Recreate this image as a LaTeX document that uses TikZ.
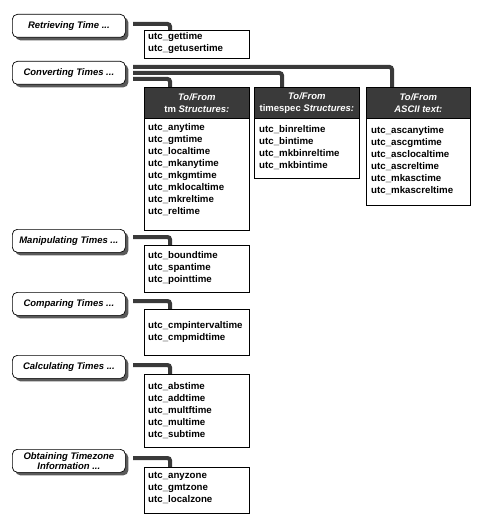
\documentclass[tikz,border=0pt]{standalone}
\usepackage{fontspec}
\setmainfont{Liberation Sans}
\usetikzlibrary{shadows}
\definecolor{dgray}{HTML}{3A3A3A}
\definecolor{sgray}{HTML}{5A5A5A}
\begin{document}
\begin{tikzpicture}[x=1pt,y=-1pt,
  conn/.style={draw=dgray, line width=4pt, rounded corners=2.5pt},
  topic/.style={draw=black, fill=white, rounded corners=5pt, minimum width=113pt, minimum height=23pt,
    anchor=north west, align=center, inner sep=0pt, line width=0.7pt,
    font=\bfseries\itshape\fontsize{9.5}{10.5}\selectfont,
    drop shadow={shadow xshift=3pt, shadow yshift=-3pt, fill=sgray, opacity=1}},
  listbox/.style={draw=black, fill=white, anchor=north west, line width=0.7pt, inner sep=0pt, minimum width=105pt},
  headbox/.style={draw=black, fill=dgray, anchor=north west, line width=0.7pt, inner sep=0pt,
    minimum width=105pt, minimum height=31pt, text=white, align=center,
    font=\bfseries\itshape\fontsize{9.5}{12}\selectfont},
  listtext/.style={anchor=north west, inner sep=0pt, align=left,
    font=\bfseries\fontsize{9.7}{12}\selectfont}
]
\useasboundingbox[fill=white] (0,0) rectangle (480,524);

% ---- topic boxes (left) ----
\node[topic] (ret)  at (12,14)  {Retrieving Time ...};
\node[topic] (conv) at (12,61)  {Converting Times ...};
\node[topic] (man)  at (12,229) {Manipulating Times ...};
\node[topic] (cmp)  at (12,292) {Comparing Times ...};
\node[topic] (calc) at (12,355) {Calculating Times ...};
\node[topic] (tz)   at (12,449) {Obtaining Timezone\\Information ...};

% ---- connector start points ----
\coordinate (sret)  at (133,24);
\coordinate (sc1)   at (133,67);
\coordinate (sc2)   at (133,73);
\coordinate (sc3)   at (133,79);
\coordinate (sman)  at (133,237);
\coordinate (scmp)  at (133,301);
\coordinate (scalc) at (133,365);
\coordinate (stz)   at (133,458);

% ---- list boxes ----
\node[listbox, minimum height=28pt] (get)  at (144,30) {};
\node[listbox, minimum height=143pt] (tm)  at (144,87) {};
\node[listbox, minimum height=91pt] (ts) at (254,87) {};
\node[listbox, minimum height=118pt, minimum width=104pt] (asc) at (366,87) {};
\node[listbox, minimum height=47pt] (bnd)  at (144,245) {};
\node[listbox, minimum height=46pt] (cmpl) at (144,309) {};
\node[listbox, minimum height=73pt] (abs)  at (144,374) {};
\node[listbox, minimum height=46pt] (zone) at (144,467) {};

% ---- connectors ----
\draw[conn] (sret)  -| ([xshift=26pt]get.north west);
\draw[conn] (sc1)   -| ([xshift=26pt]asc.north west);
\draw[conn] (sc2)   -| ([xshift=28pt]ts.north west);
\draw[conn] (sc3)   -| ([xshift=26pt]tm.north west);
\draw[conn] (sman)  -| ([xshift=26pt]bnd.north west);
\draw[conn] (scmp)  -| ([xshift=26pt]cmpl.north west);
\draw[conn] (scalc) -| ([xshift=26pt]abs.north west);
\draw[conn] (stz)   -| ([xshift=26pt]zone.north west);

% redraw box top edges over connector ends
\foreach \b in {get,tm,ts,asc,bnd,cmpl,abs,zone}
  \draw[line width=0.7pt] (\b.north west) -- (\b.north east);

% ---- column headers ----
\node[headbox] (tmh)  at (144,87) {To/From\\{\upshape tm} Structures:};
\node[headbox] (tsh)  at (254,87) {To/From\\{\upshape timespec} Structures:};
\node[headbox, minimum width=104pt] (asch) at (366,87) {To/From\\ASCII text:};

% ---- list texts ----
\node[listtext] (tget) at (148,32) {utc\_gettime\\utc\_getusertime};
\node[listtext] (ttm) at (148,123) {utc\_anytime\\utc\_gmtime\\utc\_localtime\\utc\_mkanytime\\utc\_mkgmtime\\utc\_mklocaltime\\utc\_mkreltime\\utc\_reltime};
\node[listtext] (tts) at (259,125) {utc\_binreltime\\utc\_bintime\\utc\_mkbinreltime\\utc\_mkbintime};
\node[listtext] (tasc) at (371,126) {utc\_ascanytime\\utc\_ascgmtime\\utc\_asclocaltime\\utc\_ascreltime\\utc\_mkasctime\\utc\_mkascreltime};
\node[listtext] (tbnd) at (148,251) {utc\_boundtime\\utc\_spantime\\utc\_pointtime};
\node[listtext] (tcmp) at (148,321) {utc\_cmpintervaltime\\utc\_cmpmidtime};
\node[listtext] (tabs) at (148,382) {utc\_abstime\\utc\_addtime\\utc\_multftime\\utc\_multime\\utc\_subtime};
\node[listtext] (tzone) at (148,472) {utc\_anyzone\\utc\_gmtzone\\utc\_localzone};
\end{tikzpicture}
\end{document}
